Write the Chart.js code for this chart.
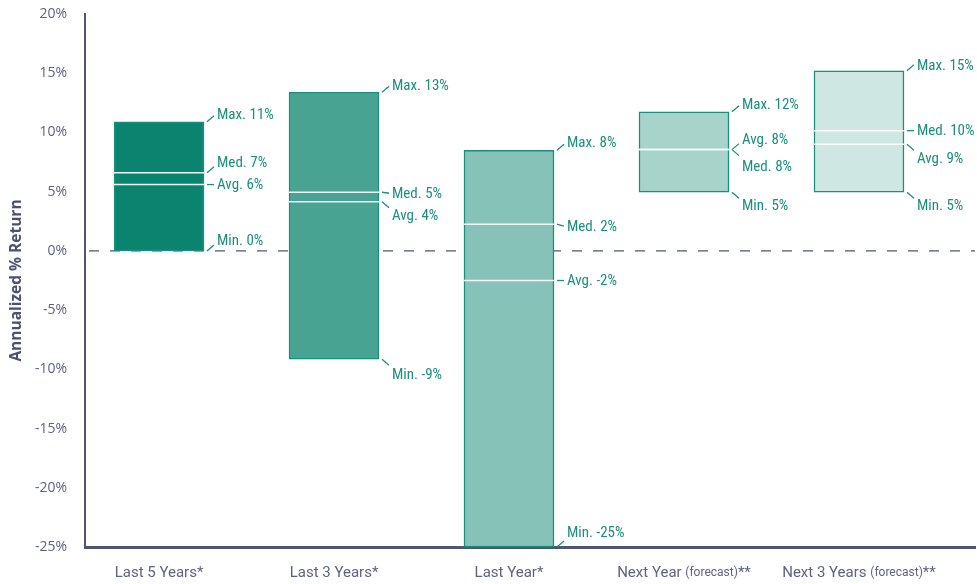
<!DOCTYPE html>
<html>
<head>
<meta charset="utf-8">
<script src="https://cdn.jsdelivr.net/npm/chart.js@4"></script>
<style>
html, body { margin: 0; padding: 0; background: #fff; }
#wrap { width: 977px; height: 584px; }
</style>
</head>
<body>
<div id="wrap"><canvas id="returnChart"></canvas></div>
<script>
const categories = ['Last 5 Years*', 'Last 3 Years*', 'Last Year*', 'Next Year', 'Next 3 Years'];
const categoryNotes = ['', '', '', '(forecast)', '(forecast)'];
const categoryMarks = ['', '', '', '**', '**'];

const maxValues = [10.9, 13.4, 8.5, 11.75, 15.2];
const minValues = [0, -9.15, -25, 4.95, 4.95];
const medianValues = [6.6, 4.95, 2.25, 8.55, 10.15];
const averageValues = [5.6, 4.15, -2.5, 8.55, 9.0];

const maxLabels = [11, 13, 8, 12, 15];
const minLabels = [0, -9, -25, 5, 5];
const medianLabels = [7, 5, 2, 8, 10];
const averageLabels = [6, 4, -2, 8, 9];

const yMin = -25, yMax = 20, yStep = 5;

// vertical nudge of each label text from its value, px
const labelShift = {
  max: [-8, -7, -8, -7, -6],
  med: [-10, 1, 2, 17, 0],
  avg: [0, 14, 0, -10, 14],
  min: [-11, 15, -15, 13, 13]
};

const fills = ['#0b846f', '#48a393', '#86c2b7', '#a7d3cb', '#cfe7e3'];
const teal = '#1a8f7a';
const slate = '#50566f';
const tickGrey = '#5d6380';
const narrow = '"Roboto Condensed", "Liberation Sans Narrow", Roboto, sans-serif';
const family = 'Roboto, "Noto Sans", sans-serif';
const labelFont = '15px ' + narrow;

const rangeMarks = {
  id: 'rangeMarks',
  beforeDatasetsDraw(chart) {
    const { ctx, chartArea, scales } = chart;
    const y0 = scales.y.getPixelForValue(0);
    ctx.save();
    ctx.strokeStyle = slate;
    ctx.lineWidth = 1.2;
    ctx.setLineDash([10, 11]);
    ctx.beginPath();
    ctx.moveTo(chartArea.left + 4, y0);
    ctx.lineTo(chartArea.right, y0);
    ctx.stroke();
    ctx.restore();
  },
  afterDatasetsDraw(chart) {
    const { ctx, scales } = chart;
    const bars = chart.getDatasetMeta(0).data;
    ctx.save();
    bars.forEach((bar, i) => {
      const left = bar.x - bar.width / 2;
      const right = bar.x + bar.width / 2;

      ctx.strokeStyle = 'rgba(255,255,255,0.92)';
      ctx.lineWidth = 1.5;
      [medianValues[i], averageValues[i]].forEach(v => {
        const py = scales.y.getPixelForValue(v);
        ctx.beginPath();
        ctx.moveTo(left, py);
        ctx.lineTo(right, py);
        ctx.stroke();
      });

      const items = [
        ['Max.', maxValues[i], maxLabels[i], labelShift.max[i]],
        ['Med.', medianValues[i], medianLabels[i], labelShift.med[i]],
        ['Avg.', averageValues[i], averageLabels[i], labelShift.avg[i]],
        ['Min.', minValues[i], minLabels[i], labelShift.min[i]]
      ];
      items.forEach(([name, v, lbl, shift]) => {
        const py = scales.y.getPixelForValue(v);
        const dy = Math.max(-6, Math.min(6, shift));
        ctx.strokeStyle = teal;
        ctx.lineWidth = 1.3;
        ctx.beginPath();
        ctx.moveTo(right + 3, py);
        ctx.lineTo(right + 10, py + dy);
        ctx.stroke();
        ctx.fillStyle = teal;
        ctx.font = labelFont;
        ctx.textAlign = 'left';
        ctx.textBaseline = 'middle';
        ctx.fillText(name + ' ' + lbl + '%', right + 13, py + shift + 1);
      });
    });
    ctx.restore();
  },
  afterDraw(chart) {
    const { ctx, scales, chartArea } = chart;
    const big = '15px ' + family;
    const small = '12px ' + family;
    const ty = chartArea.bottom + 26;
    ctx.save();
    ctx.fillStyle = tickGrey;
    ctx.textBaseline = 'middle';
    ctx.textAlign = 'left';
    categories.forEach((name, i) => {
      const parts = [[name + (categoryNotes[i] ? ' ' : ''), big], [categoryNotes[i], small], [categoryMarks[i], big]];
      let total = 0;
      parts.forEach(([t, f]) => { ctx.font = f; total += ctx.measureText(t).width; });
      let x = scales.x.getPixelForValue(i) - total / 2;
      parts.forEach(([t, f]) => {
        ctx.font = f;
        ctx.fillText(t, x, ty);
        x += ctx.measureText(t).width;
      });
    });
    ctx.restore();
  }
};

new Chart(document.getElementById('returnChart'), {
  type: 'bar',
  data: {
    datasets: [{
      data: categories.map((c, i) => ({ x: i, y: [minValues[i], maxValues[i]] })),
      backgroundColor: fills,
      borderColor: teal,
      borderWidth: 1.5,
      borderSkipped: false,
      barThickness: 90
    }]
  },
  options: {
    responsive: true,
    maintainAspectRatio: false,
    animation: false,
    layout: { padding: { top: 0, right: 2, left: 0, bottom: 0 } },
    plugins: {
      legend: { display: false },
      tooltip: { enabled: false }
    },
    scales: {
      x: {
        type: 'linear',
        offset: false,
        min: -0.423,
        max: 4.663,
        grid: { display: false, offset: false },
        border: { display: true, color: slate, width: 3 },
        ticks: { display: false },
        afterBuildTicks: s => { s.ticks = categories.map((c, i) => ({ value: i })); },
        afterFit: s => { s.height = 37; }
      },
      y: {
        min: yMin,
        max: yMax,
        grid: { display: false },
        border: { display: true, color: slate, width: 2 },
        ticks: {
          stepSize: yStep,
          color: tickGrey,
          padding: 10,
          font: { family: '"Open Sans", sans-serif', size: 14 },
          callback: v => v + '%'
        },
        title: {
          display: true,
          text: 'Annualized % Return',
          color: '#4b5170',
          padding: { top: 7, bottom: 0 },
          font: { family: '"Open Sans", sans-serif', size: 15.5, weight: 'bold' }
        },
        afterFit: s => { s.width = 85; s.paddingTop = 14; s.paddingBottom = 0; }
      }
    }
  },
  plugins: [rangeMarks]
});
</script>
</body>
</html>
